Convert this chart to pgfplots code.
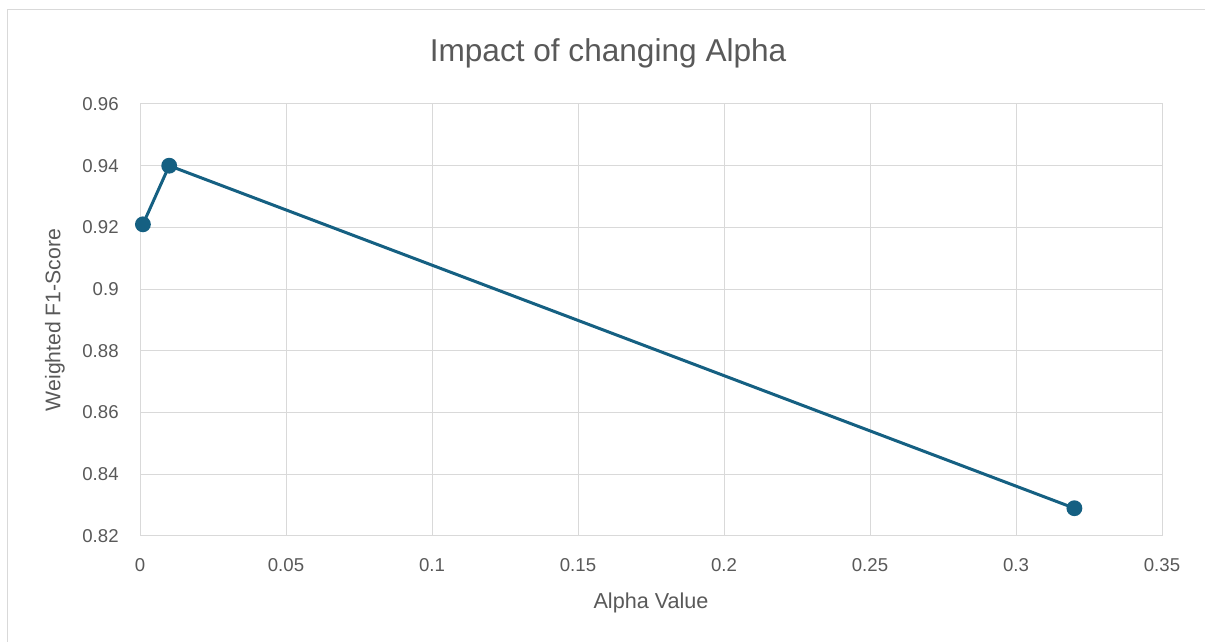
\documentclass[border=0pt]{standalone}
\usepackage{pgfplots}
\pgfplotsset{compat=1.18}
\usepackage{fontspec}
\setmainfont{Liberation Sans}

\definecolor{linecol}{HTML}{156082}
\definecolor{txt}{HTML}{595959}
\definecolor{gridc}{HTML}{D9D9D9}

\begin{document}
\begin{tikzpicture}
  % canvas and the chart-area frame (top and left edges)
  \path[use as bounding box, fill=white] (0,0) rectangle (602.5pt,321pt);
  \draw[gridc, line width=0.9pt] (3.75pt,0) -- (3.75pt,316.25pt) -- (602.5pt,316.25pt);

  \begin{axis}[
      scale only axis,
      at={(70pt,53pt)}, anchor=south west,
      width=511pt, height=216pt,
      xmin=0, xmax=0.35, ymin=0.82, ymax=0.96,
      xtick={0,0.05,0.1,0.15,0.2,0.25,0.3,0.35},
      ytick={0.82,0.84,0.86,0.88,0.9,0.92,0.94,0.96},
      /pgf/number format/fixed,
      /pgf/number format/precision=2,
      /pgf/number format/assume math mode=true,
      major tick length=0pt,
      grid=major,
      major grid style={gridc, line width=0.5pt},
      axis line style={gridc, line width=0.5pt},
      tick label style={font=\fontsize{9.3}{11}\selectfont, text=txt},
      xticklabel style={anchor=center, yshift=-14.5pt},
      yticklabel style={anchor=east, inner sep=0pt, xshift=-10.5pt},
      title={Impact of changing Alpha},
      % the default title style already shifts up by 6pt; cancel it
      title style={at={(axis description cs:0.458,1.125)}, anchor=center, yshift=-7.5pt,
                   font=\fontsize{15.8}{18}\selectfont, text=txt},
      xlabel={Alpha Value},
      xlabel style={at={(axis description cs:0.5,-0.1551)}, anchor=center,
                    font=\fontsize{10.8}{13}\selectfont, text=txt},
      ylabel={Weighted F1-Score},
      ylabel style={at={(axis description cs:-0.0832,0.5)}, anchor=center,
                    font=\fontsize{10.6}{13}\selectfont, text=txt},
    ]
    \addplot[linecol, line width=1.5pt, mark=*, mark size=3.2pt,
             mark options={fill=linecol, draw=linecol}]
      coordinates {(0.001,0.921) (0.01,0.940) (0.32,0.829)};
  \end{axis}
\end{tikzpicture}
\end{document}
